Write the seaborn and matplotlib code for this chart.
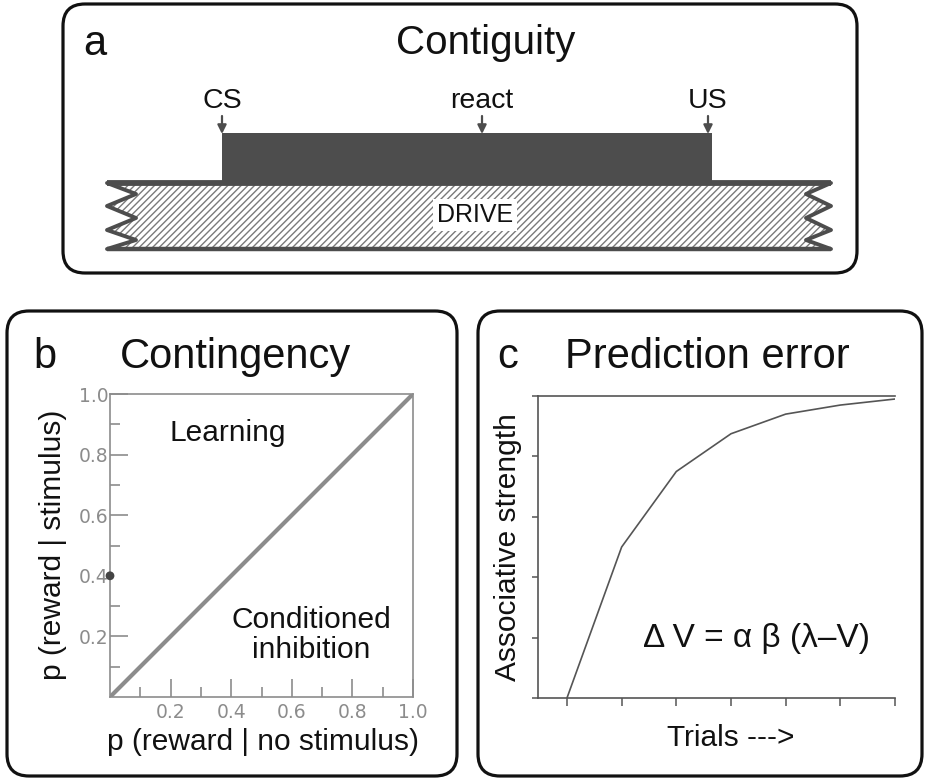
import matplotlib
matplotlib.use("Agg")
import matplotlib.pyplot as plt
import seaborn as sns
from matplotlib.patches import FancyBboxPatch, Polygon, Rectangle

# panel a: events on the contiguity time line (CS onset = 0, US = 1)
event_labels = ["CS", "react", "US"]
event_times = [0.0, 0.535, 1.0]

# panel b: contingency space
diag_x = [0.0, 1.0]
diag_y = [0.0, 1.0]
point_x = [0.0]
point_y = [0.4]
b_ticks = [0.2, 0.4, 0.6, 0.8, 1.0]
b_minor = [0.1, 0.3, 0.5, 0.7, 0.9]
b_tick_labels = ["0.2", "0.4", "0.6", "0.8", "1.0"]

# panel c: associative strength over trials
trials = [1, 2, 3, 4, 5, 6, 7]
strength = [0.0, 0.5, 0.75, 0.875, 0.94, 0.97, 0.99]
c_yticks = [0.0, 0.2, 0.4, 0.6, 0.8, 1.0]

sns.set_style("ticks")
plt.rcParams["font.family"] = ["Liberation Sans", "DejaVu Sans"]
plt.rcParams["hatch.linewidth"] = 1.0

W, H = 927, 778
fig = plt.figure(figsize=(W / 100, H / 100), dpi=100)


def fx(px):
    return px / W


def fy(py):
    return 1 - py / H


# background layer in pixel coordinates: rounded frames
bg = fig.add_axes([0, 0, 1, 1])
bg.set_xlim(0, W)
bg.set_ylim(H, 0)
bg.axis("off")
for x0, y0, x1, y1 in [(63, 4, 857, 273), (7, 311, 457, 776), (478, 311, 922, 776)]:
    bg.add_patch(FancyBboxPatch((x0, y0), x1 - x0, y1 - y0,
                                boxstyle="round,pad=0,rounding_size=22",
                                fc="white", ec="#111111", lw=2.3))

# ---- panel a: time line schematic ----
PX0, PXU = 222, 486  # pixel of CS onset, pixels per time unit
ax_a = fig.add_axes([0, fy(280), 1, 280 / H])
ax_a.set_xlim((0 - PX0) / PXU, (W - PX0) / PXU)
ax_a.set_ylim(280, 0)
ax_a.axis("off")


def tx(px):
    return (px - PX0) / PXU


dark = "#4d4d4d"
ax_a.add_patch(Rectangle((event_times[0], 133), event_times[-1] - event_times[0] + tx(712) - tx(708),
                         50, fc=dark, ec="none"))

zig_y = [183, 194, 206, 218, 230, 240, 249]
left_out, left_in, right_out, right_in = 107, 136, 831, 806
right_edge = [(tx(right_out if i % 2 == 0 else right_in), y) for i, y in enumerate(zig_y)]
left_edge = [(tx(left_out if i % 2 == 0 else left_in), y) for i, y in enumerate(zig_y)][::-1]
ax_a.add_patch(Polygon(right_edge + left_edge, closed=True, fc="white",
                       ec="#7a7a7a", hatch="/////", lw=0))
ax_a.plot([tx(left_out), tx(right_out)], [183, 183], color=dark, lw=4.2, solid_capstyle="butt")
ax_a.plot([tx(left_out), tx(right_out)], [249, 249], color=dark, lw=3.2, solid_capstyle="butt")
ax_a.plot([p[0] for p in right_edge], [p[1] for p in right_edge], color=dark, lw=2.8)
ax_a.plot([p[0] for p in left_edge], [p[1] for p in left_edge], color=dark, lw=2.8)
ax_a.text(tx(475), 215, "DRIVE", fontsize=18, color="#111111", ha="center", va="center",
          bbox=dict(fc="white", ec="none", pad=3))

for t, lab in zip(event_times, event_labels):
    ax_a.annotate("", xy=(t, 134), xytext=(t, 116),
                  arrowprops=dict(arrowstyle="-|>", color=dark, lw=1.6,
                                  mutation_scale=13, shrinkA=0, shrinkB=0))
    ax_a.text(t, 108, lab, fontsize=20.5, color="#111111", ha="center", va="baseline")

# ---- panel b: contingency space ----
grey = "#8c8c8c"
ax_b = fig.add_axes([fx(110), fy(697), fx(413) - fx(110), (697 - 394) / H])
ax_b.patch.set_alpha(0)
sns.lineplot(x=diag_x, y=diag_y, ax=ax_b, color=grey, lw=3.0)
sns.scatterplot(x=point_x, y=point_y, ax=ax_b, color="#444444", s=40,
                edgecolor="none", clip_on=False, zorder=5)
ax_b.set_xlim(0, 1)
ax_b.set_ylim(0, 1)
ax_b.set_xticks(b_ticks)
ax_b.set_xticks(b_minor, minor=True)
ax_b.set_yticks(b_ticks)
ax_b.set_yticks(b_minor, minor=True)
tick_font = dict(family=["Liberation Sans Narrow", "DejaVu Sans"], size=13.5)
ax_b.set_xticklabels(b_tick_labels, fontdict=tick_font)
ax_b.set_yticklabels(b_tick_labels, fontdict=tick_font)
ax_b.tick_params(which="both", bottom=True, left=True, top=False, right=False)
ax_b.tick_params(which="major", direction="in", length=13, width=1.2, color=grey,
                 labelcolor=grey, pad=4)
ax_b.tick_params(which="minor", direction="in", length=7.5, width=1.2, color=grey)
ax_b.tick_params(axis="y", pad=1)
ax_b.yaxis.get_major_ticks()[1].tick1line.set_visible(False)
for s in ax_b.spines.values():
    s.set_color(grey)
    s.set_linewidth(1.2)
ax_b.set_xlabel("")
ax_b.set_ylabel("")

# ---- panel c: prediction error learning curve ----
line_c = "#555555"
ax_c = fig.add_axes([fx(538), fy(698), fx(895) - fx(538), (698 - 396) / H])
ax_c.patch.set_alpha(0)
sns.lineplot(x=trials, y=strength, ax=ax_c, color=line_c, lw=1.2)
ax_c.set_xlim(0.47, 7.0)
ax_c.set_ylim(0, 1)
ax_c.set_xticks(trials)
ax_c.set_xticklabels([])
ax_c.set_yticks(c_yticks)
ax_c.set_yticklabels([])
ax_c.tick_params(axis="x", bottom=True, direction="out", length=6, width=1.1, color=line_c)
ax_c.tick_params(axis="y", left=True, direction="out", length=4.5, width=1.1, color=line_c)
for name, s in ax_c.spines.items():
    s.set_color(line_c)
    s.set_linewidth(1.2)
ax_c.spines["right"].set_visible(False)
ax_c.set_xlabel("")
ax_c.set_ylabel("")

# ---- free text (drawn on top of all axes) ----
fig_tr = bg.transData
title_kw = dict(fontsize=30, color="#111111", va="baseline", transform=fig_tr)
fig.text(95, 55, "a", ha="center", **title_kw)
fig.text(486, 54, "Contiguity", ha="center", fontsize=29, color="#111111",
         va="baseline", transform=fig_tr)
fig.text(45, 368, "b", ha="center", **title_kw)
fig.text(236, 368, "Contingency", ha="center", **title_kw)
fig.text(508, 368, "c", ha="center", **title_kw)
fig.text(707, 368, "Prediction error", ha="center", **title_kw)

lab_kw = dict(fontsize=21.5, color="#111111", ha="center", va="center", transform=fig_tr)
fig.text(53, 545, "p (reward | stimulus)", rotation=90, **lab_kw)
fig.text(263, 742, "p (reward | no stimulus)", **lab_kw)
fig.text(228, 433, "Learning", **lab_kw)
fig.text(311, 635, "Conditioned\ninhibition", linespacing=1.1, **lab_kw)
fig.text(508, 547, "Associative strength", rotation=90, **lab_kw)
fig.text(731, 738, "Trials --->", **lab_kw)
fig.text(757, 638, "\u0394 V = \u03b1 \u03b2 (\u03bb\u2013V)", fontsize=24,
         color="#111111", ha="center", va="center", transform=fig_tr)

fig.savefig("out.png", dpi=100)
